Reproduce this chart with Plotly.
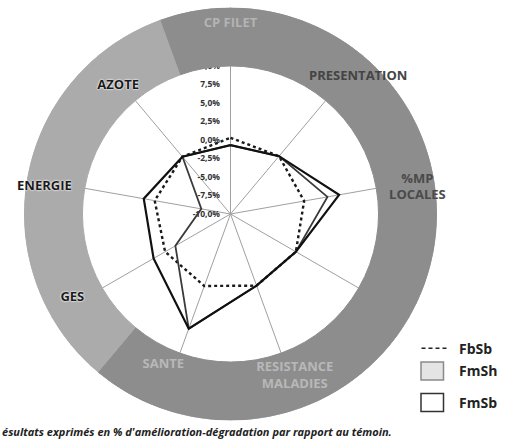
import plotly.graph_objects as go

# ---------------- data ----------------
categories = ["CP FILET", "PRESENTATION", "%MP LOCALES", "COMPORTEMENT",
              "RESISTANCE MALADIES", "SANTE", "GES", "ENERGIE", "AZOTE"]
label_text = ["CP FILET", "PRESENTATION", "%MP<br>LOCALES", "COMPORTEMENT",
              "RESISTANCE<br>MALADIES", "SANTE", "GES", "ENERGIE", "AZOTE"]
fbsb = [0.3, 0.2, 0.1, 0.2, 0.3, 0.35, 0.2, 0.4, 0.1]
fmsh = [-0.7, 0.2, 3.3, 0.2, 0.3, 6.5, -1.4, -6.0, 0.1]
fmsb = [-0.7, 0.2, 4.9, 0.2, 0.3, 6.5, 2.0, 1.9, 0.1]
tick_vals = [-10, -7.5, -5, -2.5, 0, 2.5, 5, 7.5, 10]
tick_text = ["-10,0%", "-7,5%", "-5,0%", "-2,5%", "0,0%", "2,5%", "5,0%", "7,5%", "10,0%"]
ring_group = ["dark", "dark", "dark", "dark", "dark", "dark", "light", "light", "light"]
legend_names = ["FbSb", "FmSh", "FmSb"]
caption = "ésultats exprimés en % d'amélioration-dégradation par rapport au témoin."

# ---------------- layout helpers ----------------
W, H = 511, 441
CX, CY, R = 230.5, 214.0, 206.5
R_MIN, R_IN, R_MAX = -10, 10, 17.9

n = len(categories)
theta = [i * 360.0 / n for i in range(n)]


def closed(v):
    return list(v) + [v[0]]


def px(x):
    return x / W


def py(y):
    return 1 - y / H


ring_colors = {"dark": "#8d8d8d", "light": "#ababab"}

fig = go.Figure()

# grey ring (one sector per axis)
fig.add_trace(go.Barpolar(
    r=[R_MAX - R_IN] * n, base=R_IN, theta=theta, width=[360.0 / n] * n,
    marker=dict(color=[ring_colors[g] for g in ring_group],
                line=dict(color=[ring_colors[g] for g in ring_group], width=1)),
    hoverinfo="skip", showlegend=False))

# series
fig.add_trace(go.Scatterpolar(
    r=closed(fbsb), theta=closed(theta), mode="lines", name=legend_names[0],
    line=dict(color="#1a1a1a", width=2.4, dash="dot"), showlegend=False))
fig.add_trace(go.Scatterpolar(
    r=closed(fmsh), theta=closed(theta), mode="lines", name=legend_names[1],
    line=dict(color="#3a3a3a", width=1.8), showlegend=False))
fig.add_trace(go.Scatterpolar(
    r=closed(fmsb), theta=closed(theta), mode="lines", name=legend_names[2],
    line=dict(color="#111111", width=2.2), showlegend=False))

# category labels inside the ring
label_r = [15.7, 15.3, 15.5, 18.2, 13.6, 12.3, 14.2, 15.4, 13.0]
label_theta = [0, 43, 82, 113.4, 158.4, 204, 242, 278.2, 318.7]
label_color = ["#b4b4b4", "#444444", "#4a4a4a", "#3a3a3a", "#b8b8b8",
               "#b8b8b8", "#1a1a1a", "#1a1a1a", "#1a1a1a"]
dark_idx = [i for i, g in enumerate(ring_group) if g == "dark"]
light_idx = [i for i, g in enumerate(ring_group) if g == "light"]
for idx, shadow in ((dark_idx, "none"), (light_idx, "0px 0px 2px white, 0px 0px 2px white")):
    fig.add_trace(go.Scatterpolar(
        r=[label_r[i] for i in idx], theta=[label_theta[i] for i in idx],
        text=[label_text[i] for i in idx], mode="text",
        textfont=dict(family="Open Sans", size=13, weight="bold",
                      color=[label_color[i] for i in idx], shadow=shadow),
        hoverinfo="skip", showlegend=False))

fig.update_layout(
    width=W, height=H,
    margin=dict(l=0, r=0, t=0, b=0),
    paper_bgcolor="white",
    showlegend=False,
    dragmode=False,
    font=dict(family="Open Sans", color="#222"),
    polar=dict(
        domain=dict(x=[px(CX - R), px(CX + R)], y=[py(CY + R), py(CY - R)]),
        bgcolor="white",
        radialaxis=dict(range=[R_MIN, R_MAX], tickvals=tick_vals, ticktext=tick_text,
                        angle=90, tickangle=90, side="counterclockwise", showline=False,
                        linecolor="rgba(0,0,0,0)",
                        showgrid=False, ticks="outside", ticklen=7,
                        tickcolor="rgba(0,0,0,0)", layer="below traces",
                        tickfont=dict(family="Open Sans", size=8.5, weight="bold",
                                      color="#333")),
        angularaxis=dict(rotation=90, direction="clockwise", tickvals=theta,
                         showticklabels=False, ticks="", showline=False,
                         gridcolor="#a0a0a0", gridwidth=1, layer="below traces"),
    ),
)

# manual legend
shapes = [
    dict(type="line", xref="paper", yref="paper", x0=px(421.5), x1=px(448),
         y0=py(348.3), y1=py(348.3), line=dict(color="#222", width=1.5, dash="4px,3px")),
    dict(type="rect", xref="paper", yref="paper", x0=px(421), x1=px(443.5),
         y0=py(362), y1=py(380), fillcolor="#e4e4e4", line=dict(color="#8a8a8a", width=1.5)),
    dict(type="rect", xref="paper", yref="paper", x0=px(421), x1=px(443.5),
         y0=py(393.5), y1=py(411.5), fillcolor="white", line=dict(color="#333", width=1.5)),
]
fig.update_layout(shapes=shapes)
legend_y = [348.3, 370.5, 402]
for name, yy in zip(legend_names, legend_y):
    fig.add_annotation(x=px(457), y=py(yy), xref="paper", yref="paper", text=name,
                       showarrow=False, xanchor="left", yanchor="middle",
                       font=dict(family="Open Sans", size=14, weight="bold", color="#222"))

fig.add_annotation(x=px(0), y=py(431), xref="paper", yref="paper", text=caption,
                   showarrow=False, xanchor="left", yanchor="middle",
                   font=dict(family="Open Sans", size=11, weight="bold", style="italic",
                             color="#222"))

fig.write_html("out.html", config={"displayModeBar": False, "staticPlot": True},
               post_script="document.body.style.margin='0';"
               "document.body.style.overflow='hidden';")
